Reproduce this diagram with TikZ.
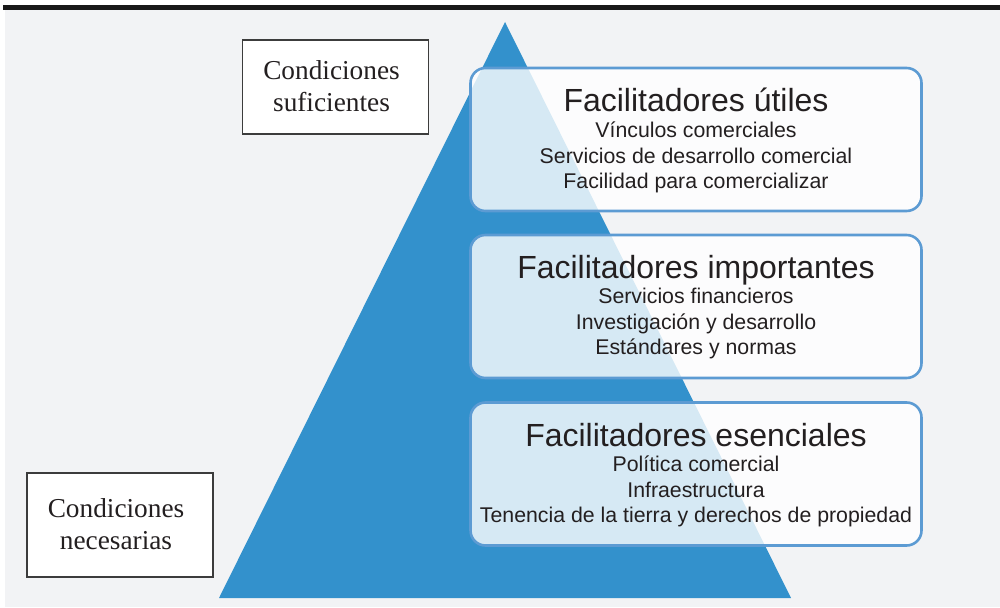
\documentclass[tikz,border=0pt]{standalone}
\usepackage{fontspec}
\setmainfont{Liberation Serif}
\setsansfont{Liberation Sans}
\definecolor{bggray}{HTML}{F2F3F5}
\definecolor{triblue}{HTML}{3391CC}
\definecolor{boxline}{HTML}{5C9BD3}
\definecolor{txt}{HTML}{231F20}
\definecolor{condline}{HTML}{3C3C3C}
\tikzset{
  fbox/.style={draw=boxline, line width=2.6pt, fill=white, fill opacity=0.8, text opacity=1,
    rounded corners=15pt, minimum width=451pt, minimum height=143pt, inner sep=0pt},
  ttl/.style={anchor=base, text=txt, font=\sffamily\fontsize{32}{36}\selectfont, inner sep=0pt},
  itm/.style={anchor=base, text=txt, font=\sffamily\fontsize{21.3}{24}\selectfont, inner sep=0pt},
  cond/.style={draw=condline, line width=1.5pt, fill=white, minimum width=186pt, minimum height=94pt, inner sep=0pt},
  condtxt/.style={anchor=base, text=txt, font=\rmfamily\fontsize{27.3}{32}\selectfont, inner sep=0pt},
}
\begin{document}
\begin{tikzpicture}[x=1pt,y=-1pt]
\useasboundingbox (0,0) rectangle (1000,607);
\fill[bggray] (5,10) rectangle (1000,607);
\fill[black!90] (3,5) rectangle (1000,10);
\fill[triblue] (505,22) -- (791,598) -- (219,598) -- cycle;
% boxes
\node[fbox] (b1) at (696,139.5) {};
\node[fbox] (b2) at (696,306.5) {};
\node[fbox] (b3) at (696,474) {};
\node[ttl] (t1) at (696,112) {Facilitadores útiles};
\node[itm] (i11) at (696,137) {Vínculos comerciales};
\node[itm] (i12) at (696,163) {Servicios de desarrollo comercial};
\node[itm] (i13) at (696,188) {Facilidad para comercializar};
\node[ttl] (t2) at (696,278) {Facilitadores importantes};
\node[itm] (i21) at (696,303) {Servicios financieros};
\node[itm] (i22) at (696,329) {Investigación y desarrollo};
\node[itm] (i23) at (696,354) {Estándares y normas};
\node[ttl] (t3) at (696,446) {Facilitadores esenciales};
\node[itm] (i31) at (696,471) {Política comercial};
\node[itm] (i32) at (696,497) {Infraestructura};
\node[itm] (i33) at (696,522) {Tenencia de la tierra y derechos de propiedad};
% condition boxes
\node[cond] (cs) at (335.5,87) {};
\node[condtxt] (cs1) at (331.5,80) {Condiciones};
\node[condtxt] (cs2) at (331.5,112) {suficientes};
\node[cond, minimum height=104pt] (cn) at (120,525) {};
\node[condtxt] (cn1) at (116,517) {Condiciones};
\node[condtxt] (cn2) at (116,549) {necesarias};
\end{tikzpicture}
\end{document}
